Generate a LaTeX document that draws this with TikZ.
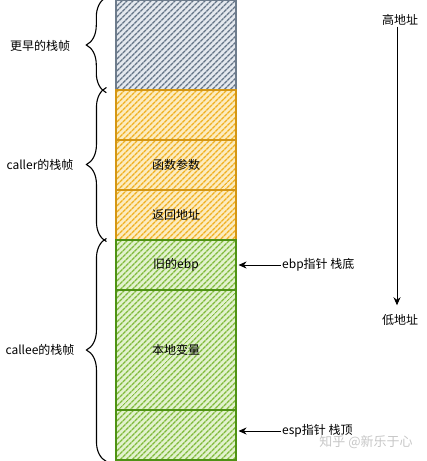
\documentclass[tikz,border=0pt]{standalone}
\usepackage{fontspec}
\setmainfont{Noto Sans CJK SC}
\usetikzlibrary{patterns.meta,decorations.pathreplacing,arrows.meta}
\definecolor{grayhatch}{HTML}{647487}
\definecolor{grayline}{HTML}{6E7C8C}
\definecolor{graybg}{HTML}{E4E8EE}
\definecolor{orghatch}{HTML}{F0B020}
\definecolor{orgline}{HTML}{D49614}
\definecolor{orgbg}{HTML}{FCECC0}
\definecolor{grnhatch}{HTML}{80BA3C}
\definecolor{grnline}{HTML}{4E9214}
\definecolor{grnbg}{HTML}{E2F2CE}
\begin{document}
\begin{tikzpicture}[x=1pt,y=-1pt,
  font=\fontsize{12}{14}\selectfont,
  stackbox/.style={minimum width=120, inner sep=0, line width=1.1pt},
  graybox/.style={stackbox, draw=grayline, preaction={fill=graybg},
    pattern={Lines[angle=45,distance=4pt,line width=1.4pt]}, pattern color=grayhatch},
  orgbox/.style={stackbox, draw=orgline, preaction={fill=orgbg},
    pattern={Lines[angle=45,distance=4pt,line width=1.4pt]}, pattern color=orghatch},
  grnbox/.style={stackbox, draw=grnline, preaction={fill=grnbg},
    pattern={Lines[angle=45,distance=4pt,line width=1.4pt]}, pattern color=grnhatch},
  bracestyle/.style={draw, line width=1.1pt, decorate, decoration={brace, amplitude=20pt}},
  ptr/.style={draw, line width=0.8pt, -{Stealth[length=8pt,width=7pt]}},
  lbl/.style={inner sep=1pt}
]
\useasboundingbox (0,0) rectangle (427,461);

% stack boxes
\node[graybox, minimum height=90] (early) at (176,45) {};
\node[orgbox, minimum height=50] (o1) at (176,115) {};
\node[orgbox, minimum height=50] (o2) at (176,165) {函数参数};
\node[orgbox, minimum height=50] (o3) at (176,215) {返回地址};
\node[grnbox, minimum height=50] (g1) at (176,265) {旧的ebp};
\node[grnbox, minimum height=120] (g2) at (176,350) {本地变量};
\node[grnbox, minimum height=50] (g3) at (176,435) {};

% braces
\draw[bracestyle] ([xshift=-9,yshift=-2]early.south west) -- ([xshift=-9,yshift=2]early.north west);
\draw[bracestyle] ([xshift=-9,yshift=-1]o3.south west) -- ([xshift=-9,yshift=2]o1.north west);
\draw[bracestyle] ([xshift=-9,yshift=-1]g3.south west) -- ([xshift=-9,yshift=1]g1.north west);

\node[lbl] (lEarly) at (40,46) {更早的栈帧};
\node[lbl] (lCaller) at (40,165) {caller的栈帧};
\node[lbl] (lCallee) at (40,350) {callee的栈帧};

% pointers
\node[lbl, anchor=west] (ebp) at (281,265) {ebp指针 栈底};
\node[lbl, anchor=west] (esp) at (281,431) {esp指针 栈顶};
\draw[ptr] (ebp.west) -- ([xshift=2]g1.east);
\draw[ptr] (esp.west) -- ([xshift=2]g3.east |- esp.west);

% address direction
\node[lbl] (hi) at (400,20) {高地址};
\node[lbl] (lo) at (400,320) {低地址};
\draw[ptr] ([xshift=-3]hi.south) -- ([xshift=-3,yshift=8]lo.north);

% watermark
\node[lbl, text=black!22, font=\fontsize{13}{15}\selectfont] (wm) at (366,442) {知乎 @新乐于心};
\end{tikzpicture}
\end{document}
